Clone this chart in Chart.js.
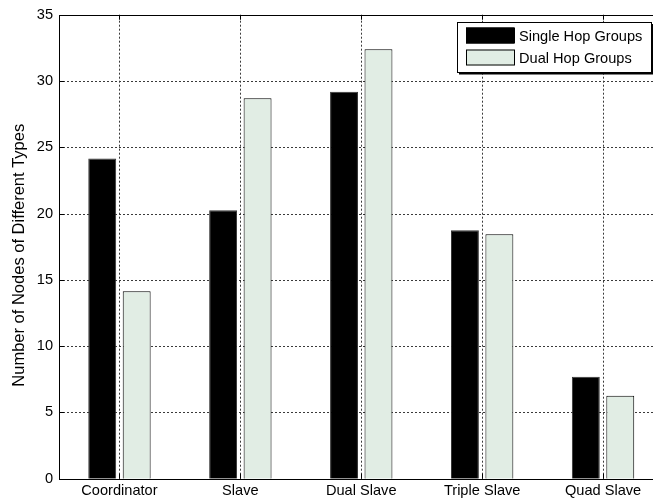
<!DOCTYPE html>
<html>
<head>
<meta charset="utf-8">
<script src="https://cdn.jsdelivr.net/npm/chart.js@4/dist/chart.umd.min.js"></script>
<style>
html,body{margin:0;padding:0;background:#fff;overflow:hidden;}
#wrap{width:653px;height:502px;overflow:hidden;position:relative;}
canvas{position:absolute;left:0;top:0;}
</style>
</head>
<body>
<div id="wrap"><canvas id="c" width="680" height="502"></canvas></div>
<script>
const categories = ['Coordinator', 'Slave', 'Dual Slave', 'Triple Slave', 'Quad Slave'];
const singleHop = [24.15, 20.25, 29.2, 18.75, 7.7];
const dualHop = [14.15, 28.7, 32.4, 18.45, 6.25];
const yTicks = [0, 5, 10, 15, 20, 25, 30, 35];
const seriesNames = ['Single Hop Groups', 'Dual Hop Groups'];
const yTitle = 'Number of Nodes of Different Types';

const FONT = "'Liberation Sans', Arial, Helvetica, sans-serif";
const GREEN = '#e1ede4';
const TICKFONT = 14.6;

const framePlugin = {
  id: 'frame',
  beforeDatasetsDraw(chart) {
    const ctx = chart.ctx, a = chart.chartArea;
    const xs = chart.scales.x, ys = chart.scales.y;
    ctx.save();
    ctx.strokeStyle = '#3a3a3a';
    ctx.lineWidth = 1;
    ctx.setLineDash([2, 2]);
    ctx.beginPath();
    for (let i = 0; i < categories.length; i++) {
      const px = Math.round(xs.getPixelForValue(i)) + 0.5;
      ctx.moveTo(px, a.bottom); ctx.lineTo(px, a.top);
    }
    yTicks.forEach(v => {
      const py = Math.round(ys.getPixelForValue(v)) + 0.5;
      ctx.moveTo(a.left, py); ctx.lineTo(a.right, py);
    });
    ctx.stroke();
    ctx.restore();
  },
  afterDatasetsDraw(chart) {
    const ctx = chart.ctx, a = chart.chartArea;
    const xs = chart.scales.x, ys = chart.scales.y;
    ctx.save();
    ctx.strokeStyle = '#000';
    ctx.lineWidth = 1;
    ctx.setLineDash([]);
    ctx.beginPath();
    ctx.rect(Math.round(a.left) + 0.5, Math.round(a.top) + 0.5, Math.round(a.right - a.left), Math.round(a.bottom - a.top));
    ctx.stroke();
    ctx.beginPath();
    for (let i = 0; i < categories.length; i++) {
      const px = Math.round(xs.getPixelForValue(i)) + 0.5;
      ctx.moveTo(px, a.bottom); ctx.lineTo(px, a.bottom - 5);
      ctx.moveTo(px, a.top); ctx.lineTo(px, a.top + 5);
    }
    yTicks.forEach(v => {
      const py = Math.round(ys.getPixelForValue(v)) + 0.5;
      ctx.moveTo(a.left, py); ctx.lineTo(a.left + 5, py);
      ctx.moveTo(a.right, py); ctx.lineTo(a.right - 5, py);
    });
    ctx.stroke();
    ctx.translate(24, (a.top + a.bottom) / 2 + 8.5);
    ctx.rotate(-Math.PI / 2);
    ctx.fillStyle = '#000';
    ctx.font = '16.5px ' + FONT;
    ctx.textAlign = 'center';
    ctx.textBaseline = 'alphabetic';
    ctx.fillText(yTitle, 0, 0);
    ctx.restore();
  },
  afterDraw(chart) {
    const ctx = chart.ctx;
    const L = 457, T = 22, W = 194, H = 50;
    ctx.save();
    ctx.fillStyle = '#fff';
    ctx.fillRect(L, T, W, H);
    ctx.strokeStyle = '#000';
    ctx.lineWidth = 1;
    ctx.strokeRect(L + 0.5, T + 0.5, W, H);
    ctx.lineWidth = 2;
    ctx.beginPath();
    ctx.moveTo(L + 2, T + H + 1.5);
    ctx.lineTo(L + W + 1.5, T + H + 1.5);
    ctx.lineTo(L + W + 1.5, T + 2);
    ctx.stroke();
    ctx.lineWidth = 1;
    ctx.font = TICKFONT + 'px ' + FONT;
    ctx.textBaseline = 'middle';
    ctx.textAlign = 'left';
    chart.data.datasets.forEach((ds, i) => {
      const cy = 35.5 + i * 22;
      ctx.fillStyle = ds.backgroundColor;
      ctx.fillRect(466, cy - 8, 48, 16);
      ctx.strokeStyle = '#000';
      ctx.strokeRect(466.5, cy - 7.5, 48, 15);
      ctx.fillStyle = '#000';
      ctx.fillText(ds.label, 519, cy + 1);
    });
    ctx.restore();
  }
};

new Chart(document.getElementById('c'), {
  type: 'bar',
  data: {
    labels: categories,
    datasets: [
      { label: seriesNames[0], data: singleHop, backgroundColor: '#000', borderColor: '#333', borderWidth: 1,
        categoryPercentage: 0.57, barPercentage: 0.81 },
      { label: seriesNames[1], data: dualHop, backgroundColor: GREEN, borderColor: '#000', borderWidth: 1,
        categoryPercentage: 0.57, barPercentage: 0.81 }
    ]
  },
  options: {
    responsive: false,
    animation: false,
    devicePixelRatio: 1,
    layout: { padding: { left: 0, top: 14, right: 16.5, bottom: 0 } },
    plugins: { legend: { display: false }, tooltip: { enabled: false } },
    scales: {
      x: {
        offset: true,
        grid: { display: false, offset: false, drawTicks: false },
        border: { display: false },
        ticks: { color: '#000', font: { family: FONT, size: TICKFONT }, padding: 4, maxRotation: 0, autoSkip: false },
        afterFit(s) { s.height = 23.3; }
      },
      y: {
        min: 0, max: 35,
        afterBuildTicks(s) { s.ticks = yTicks.map(v => ({ value: v })); },
        grid: { display: false, drawTicks: false },
        border: { display: false },
        ticks: { color: '#000', font: { family: FONT, size: TICKFONT }, padding: 6 },
        afterFit(s) { s.width = 59; }
      }
    }
  },
  plugins: [framePlugin]
});
</script>
</body>
</html>
